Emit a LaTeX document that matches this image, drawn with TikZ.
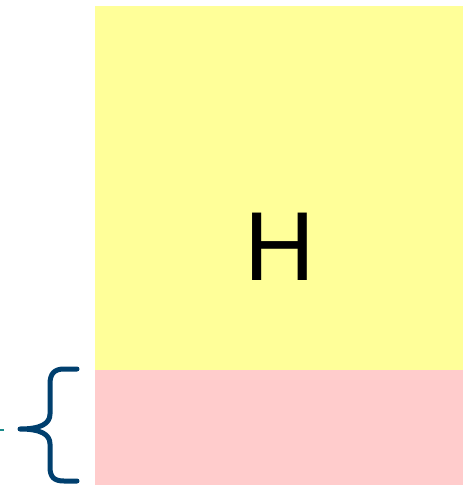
\documentclass[tikz,border=0pt]{standalone}
\usepackage{fontspec}
\setmainfont{Liberation Sans}
\definecolor{boxyellow}{HTML}{FFFF99}
\definecolor{boxpink}{HTML}{FFCCCC}
\definecolor{bracenavy}{HTML}{003F6E}
\definecolor{tealtick}{HTML}{1A8A8A}
\begin{document}
\begin{tikzpicture}[x=1pt,y=-1pt,
  region/.style={draw=none,inner sep=0pt,outer sep=0pt},
  bracestroke/.style={draw=bracenavy,line width=5pt,line cap=round,line join=round}]
\useasboundingbox (0,0) rectangle (465,485);
% upper and lower regions
\node[region,fill=boxyellow,minimum width=368pt,minimum height=364pt,anchor=north west] (upper) at (95,6) {};
\node[region,fill=boxpink,minimum width=368pt,minimum height=115pt,anchor=north west] (lower) at (95,370) {};
% label
\node[font=\fontsize{98}{98}\selectfont,inner sep=0pt] (hlabel) at (280,247) {H};
% brace spanning the lower region
\coordinate (btop) at (77,369);
\coordinate (bbot) at (77,481);
\coordinate (btip) at (20,429);
\path[bracestroke] (btop) -- (64,369) .. controls (54,369) and (50,374) .. (50,384)
  -- (50,414) .. controls (50,424) and (40,429) .. (btip)
  .. controls (40,429) and (50,434) .. (50,444)
  -- (50,467) .. controls (50,477) and (54,481) .. (64,481) -- (bbot);
% short tick to the left of the brace
\coordinate (tickL) at (0,430);
\coordinate (tickR) at (4,430);
\draw[tealtick,line width=2pt] (tickL) -- (tickR);
\end{tikzpicture}
\end{document}
